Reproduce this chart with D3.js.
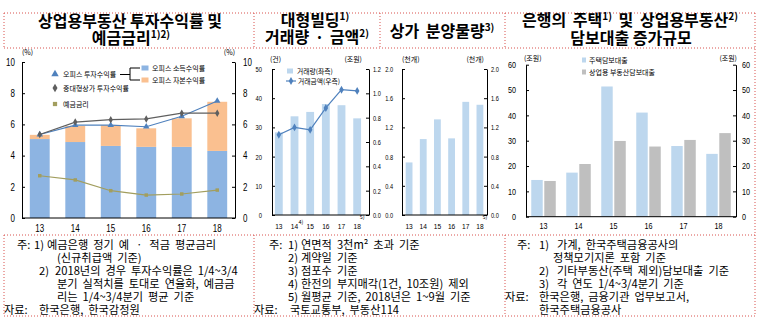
<!DOCTYPE html>
<html><head><meta charset="utf-8">
<script src="https://cdn.jsdelivr.net/npm/d3@7"></script>
<style>
body{margin:0;background:#fff;}
svg{display:block;font-family:'Noto Sans CJK KR','Noto Sans',sans-serif;}
text{white-space:pre;}
</style></head><body>
<svg id="c" width="766" height="330"></svg>
<script>
// ---------- data ----------
const years = ["13","14","15","16","17","18"];
// panel 1 (%)
const officeIncome  = [5.06, 4.87, 4.62, 4.56, 4.56, 4.30];
const officeCapital = [0.27, 1.03, 1.33, 1.19, 1.83, 3.15];
const officeReturn  = [5.35, 5.95, 5.95, 5.85, 6.52, 7.50];
const retailReturn  = [5.35, 6.15, 6.30, 6.35, 6.72, 6.72];
const depositRate   = [2.71, 2.44, 1.75, 1.47, 1.54, 1.79];
const ticks1 = [0, 2, 4, 6, 8, 10];
// panel 2
const bldgCount  = [28.3, 33.8, 35.3, 38.0, 37.6, 33.1];   // 건
const bldgAmount = [0.66, 0.72, 0.70, 0.88, 1.03, 1.02];   // 조원
const ticks2L = [0, 10, 20, 30, 40, 50];
const ticks2R = [0, 0.2, 0.4, 0.6, 0.8, 1.0, 1.2];
// panel 3
const retailSupply = [0.72, 1.04, 1.31, 1.05, 1.55, 1.51]; // 천개
const ticks3 = [0, 0.4, 0.8, 1.2, 1.6, 2.0];
// panel 4 (조원)
const mortgageLoan   = [14.5, 17.4, 51.4, 41.1, 27.9, 24.8];
const commercialLoan = [14.1, 20.8, 29.9, 27.7, 30.3, 33.0];
const ticks4 = [0, 10, 20, 30, 40, 50, 60];

const notes1 = [
  {k:"주:", n:"1)", t:"예금은행 정기 예 ㆍ 적금 평균금리"},
  {c:"(신규취급액 기준)"},
  {n:"2)", t:"2018년의 경우 투자수익률은 1/4~3/4"},
  {c:"분기 실적치를 토대로 연율화, 예금금"},
  {c:"리는 1/4~3/4분기 평균 기준"},
  {k:"자료:", t:"한국은행, 한국감정원"}
];
const notes2 = [
  {k:"주:", n:"1)", t:"연면적 3천m² 초과 기준"},
  {n:"2)", t:"계약일 기준"},
  {n:"3)", t:"점포수 기준"},
  {n:"4)", t:"한전의 부지매각(1건, 10조원) 제외"},
  {n:"5)", t:"월평균 기준, 2018년은 1~9월 기준"},
  {k:"자료:", t:"국토교통부, 부동산114"}
];
const notes4 = [
  {k:"주:", n:"1)", t:"가계, 한국주택금융공사의"},
  {c:"정책모기지론 포함 기준"},
  {n:"2)", t:"기타부동산(주택 제외)담보대출 기준"},
  {n:"3)", t:"각 연도 1/4~3/4분기 기준"},
  {k:"자료:", t:"한국은행, 금융기관 업무보고서,"},
  {s:"한국주택금융공사"}
];

// ---------- helpers ----------
const svg = d3.select("#c");
const RED = "#d9534f";
const NUMF = "'Liberation Sans',Arial,sans-serif";

function dotted(x1, y1, x2, y2) {
  svg.append("line").attr("x1", x1).attr("y1", y1).attr("x2", x2).attr("y2", y2)
    .attr("stroke", RED).attr("stroke-width", 1).attr("stroke-dasharray", "1,2");
}
function title(cx, y, parts, fs, ws) {
  const t = svg.append("text").attr("x", cx).attr("y", y).attr("text-anchor", "middle")
    .attr("font-size", fs).attr("font-weight", 700).attr("word-spacing", ws || 0).attr("fill", "#000");
  let up = false;
  parts.forEach(p => {
    const sup = Array.isArray(p);
    const s = t.append("tspan").text(sup ? p[0] : p);
    if (sup) { s.attr("font-size", 10).attr("dy", -6); up = true; }
    else if (up) { s.attr("dy", 6); up = false; }
  });
}
// horizontally condense tick labels (narrow numerals as in the original)
function condense(g, s) {
  g.selectAll("text").each(function () {
    const el = d3.select(this);
    const x0 = +(el.attr("x") || 0);
    el.attr("x", x0 / s).attr("transform", `scale(${s},1)`);
  });
}
function yAxis(scale, ticks, side, x, pad, fs, fmt, s) {
  const ax = (side === "left" ? d3.axisLeft(scale) : d3.axisRight(scale))
    .tickValues(ticks).tickFormat(fmt).tickSizeInner(-3).tickSizeOuter(0).tickPadding(pad);
  svg.append("g").attr("transform", `translate(${x},0)`).call(ax)
    .call(g => {
      g.select(".domain").attr("stroke", "#000");
      g.selectAll(".tick line").attr("stroke", "#000");
      g.selectAll("text").attr("font-size", fs).attr("font-family", NUMF).attr("fill", "#000");
      condense(g, s);
    });
}
function xAxis(scale, y, x0, x1, pad, fs, s) {
  svg.append("g").attr("transform", `translate(0,${y})`)
    .call(d3.axisBottom(scale).tickSize(0).tickPadding(pad))
    .call(g => {
      g.select(".domain").remove();
      g.selectAll("text").attr("font-size", fs).attr("font-family", NUMF).attr("fill", "#000");
      condense(g, s);
    });
  svg.append("line").attr("x1", x0).attr("x2", x1).attr("y1", y).attr("y2", y).attr("stroke", "#000");
}
function small(x, y, txt, fs, anchor) {
  return svg.append("text").attr("x", x).attr("y", y).attr("font-size", fs)
    .attr("text-anchor", anchor || "start").attr("fill", "#000").text(txt);
}
function notes(list, ox, cols) {
  list.forEach((d, i) => {
    const y = 248.5 + i * 13.1;
    const add = (x, s) => svg.append("text").attr("x", ox + x).attr("y", y)
      .attr("font-size", 11.2).attr("word-spacing", 2.5).attr("fill", "#000").text(s);
    if (d.k === "주:") { add(cols.k, d.k); add(cols.n, d.n); add(cols.t, d.t); }
    else if (d.k === "자료:") { add(0, d.k); add(cols.s, d.t); }
    else if (d.n) { add(cols.n2, d.n); add(cols.t2, d.t); }
    else if (d.c) { add(cols.c, d.c); }
    else if (d.s) { add(cols.s, d.s); }
  });
}

// ---------- frames ----------
dotted(4, 13, 755, 13);
dotted(4, 48, 755, 48);
[4, 254, 380, 505].forEach(x => dotted(x, 13, x, 48));
dotted(755, 13, 755, 316);
dotted(4, 235, 755, 235);
dotted(4, 316, 755, 316);
[4, 254, 505].forEach(x => dotted(x, 235, x, 316));

// ---------- titles ----------
title(130, 27, ["상업용부동산 투자수익률 및"], 16);
title(131, 44, ["예금금리", ["1)2)"]], 16);
title(315, 26, ["대형빌딩", ["1)"]], 16);
title(317, 43, ["거래량 · 금액", ["2)"]], 16, 2);
title(442, 36.5, ["상가 분양물량", ["3)"]], 16, 3);
title(630, 26, ["은행의 주택", ["1)"], " 및 상업용부동산", ["2)"]], 16, 3);
title(631, 44, ["담보대출 증가규모"], 16);

// ---------- panel 1 ----------
{
  const L = 22, R = 235, T = 62, B = 218;
  const x = d3.scaleBand().domain(years).range([L, R]).paddingInner(0.44).paddingOuter(0.22);
  const y = d3.scaleLinear().domain([0, 10]).range([B, T]);
  const rows = years.map((yr, i) => ({year: yr, income: officeIncome[i], capital: officeCapital[i]}));
  const stack = d3.stack().keys(["income", "capital"])(rows);
  const col = {income: "#8DB4E2", capital: "#FAC090"};
  svg.append("g").selectAll("g").data(stack).join("g").attr("fill", d => col[d.key])
    .selectAll("rect").data(d => d).join("rect")
    .attr("x", d => x(d.data.year)).attr("width", x.bandwidth())
    .attr("y", d => y(d[1])).attr("height", d => y(d[0]) - y(d[1]));

  const series = [
    {name: "오피스 투자수익률", v: officeReturn, color: "#4F81BD", sym: d3.symbolTriangle, size: 18},
    {name: "중대형상가 투자수익률", v: retailReturn, color: "#5f5f5f", sym: d3.symbolDiamond, size: 16},
    {name: "예금금리", v: depositRate, color: "#A29E5E", sym: d3.symbolSquare, size: 12}
  ];
  const cx = i => x(years[i]) + x.bandwidth() / 2;
  series.forEach(s => {
    svg.append("path").datum(s.v).attr("fill", "none").attr("stroke", s.color).attr("stroke-width", 1.2)
      .attr("d", d3.line().x((d, i) => cx(i)).y(d => y(d)));
    svg.append("g").selectAll("path").data(s.v).join("path")
      .attr("transform", (d, i) => `translate(${cx(i)},${y(d)})`)
      .attr("d", d3.symbol().type(s.sym).size(s.size)).attr("fill", s.color);
  });

  yAxis(y, ticks1, "left", L, 7, 10, d3.format("d"), 0.8);
  yAxis(y, ticks1, "right", R, 8, 10, d3.format("d"), 0.8);
  xAxis(x, B, L, R, 6.5, 10, 0.8);
  small(22, 55, "(%)", 7);
  small(235, 55, "(%)", 7, "end");

  // legend
  series.forEach((s, i) => {
    const ly = [74, 88, 104][i];
    svg.append("path").attr("transform", `translate(55,${ly})`)
      .attr("d", d3.symbol().type(s.sym).size(s.size + 6)).attr("fill", s.color);
    small(63, ly + 2.5, s.name, 7);
  });
  svg.append("path").attr("fill", "none").attr("stroke", "#000").attr("stroke-width", 1)
    .attr("d", "M120,74.5H130M140,68H130V80H140");
  [["오피스 소득수익률", "#8DB4E2", 68], ["오피스 자본수익률", "#FAC090", 80]].forEach(([n, c, ly]) => {
    svg.append("rect").attr("x", 141.5).attr("y", ly - 2.5).attr("width", 7).attr("height", 5).attr("fill", c);
    small(152, ly + 2.5, n, 7);
  });
}

// ---------- panel 2 ----------
{
  const L = 272, R = 369, T = 69, B = 215;
  const x = d3.scaleBand().domain(years).range([271, 365]).paddingInner(0.5).paddingOuter(0.25);
  const yL = d3.scaleLinear().domain([0, 50]).range([B, T]);
  const yR = d3.scaleLinear().domain([0, 1.2]).range([B, T]);
  svg.append("g").selectAll("rect").data(bldgCount).join("rect")
    .attr("x", (d, i) => x(years[i])).attr("width", x.bandwidth())
    .attr("y", d => yL(d)).attr("height", d => B - yL(d)).attr("fill", "#BDD7EE");
  const cx = i => x(years[i]) + x.bandwidth() / 2;
  svg.append("path").datum(bldgAmount).attr("fill", "none").attr("stroke", "#4F81BD").attr("stroke-width", 1.2)
    .attr("d", d3.line().x((d, i) => cx(i)).y(d => yR(d)));
  svg.append("g").selectAll("path").data(bldgAmount).join("path")
    .attr("transform", (d, i) => `translate(${cx(i)},${yR(d)})`)
    .attr("d", d3.symbol().type(d3.symbolDiamond).size(18)).attr("fill", "#4F81BD");
  yAxis(yL, ticks2L, "left", L, 10, 7.5, d3.format("d"), 0.78);
  yAxis(yR, ticks2R, "right", R, 4, 7.5, d3.format(".1f"), 0.75);
  xAxis(x, B, L, R, 8.8, 7.8, 0.85);
  small(cx(1) + 4, 224, "4)", 5.5);
  small(cx(5) + 2.5, 219, "5)", 5.5);
  small(270, 62, "(건)", 7);
  small(362, 62, "(조원)", 7, "end");
  svg.append("rect").attr("x", 287).attr("y", 68.5).attr("width", 6).attr("height", 5).attr("fill", "#BDD7EE");
  small(297, 73.5, "거래량(좌측)", 6.8);
  svg.append("line").attr("x1", 286).attr("x2", 296).attr("y1", 81).attr("y2", 81).attr("stroke", "#4F81BD").attr("stroke-width", 1.2);
  svg.append("path").attr("transform", "translate(291,81)").attr("d", d3.symbol().type(d3.symbolDiamond).size(18)).attr("fill", "#4F81BD");
  small(298, 83.5, "거래금액(우측)", 6.8);
}

// ---------- panel 3 ----------
{
  const L = 402, R = 487, T = 69, B = 215;
  const x = d3.scaleBand().domain(years).range([L, R]).paddingInner(0.52).paddingOuter(0.26);
  const y = d3.scaleLinear().domain([0, 2.0]).range([B, T]);
  svg.append("g").selectAll("rect").data(retailSupply).join("rect")
    .attr("x", (d, i) => x(years[i])).attr("width", x.bandwidth())
    .attr("y", d => y(d)).attr("height", d => B - y(d)).attr("fill", "#BDD7EE");
  yAxis(y, ticks3, "left", L, 9, 7.5, d3.format(".1f"), 0.75);
  yAxis(y, ticks3, "right", R, 4, 7.5, d3.format(".1f"), 0.75);
  xAxis(x, B, L, R, 8.8, 7.8, 0.85);
  small(x("18") + x.bandwidth() / 2 + 2.5, 219, "5)", 5.5);
  small(402, 62, "(천개)", 7);
  small(484, 62, "(천개)", 7, "end");
}

// ---------- panel 4 ----------
{
  const L = 526, R = 736, T = 64.7, B = 216.7;
  const x = d3.scaleBand().domain(years).range([L, R]).paddingInner(0.3).paddingOuter(0.15);
  const xs = d3.scaleBand().domain(["m", "c"]).range([0, x.bandwidth()]).paddingInner(0.12);
  const y = d3.scaleLinear().domain([0, 60]).range([B, T]);
  const rows = years.map((yr, i) => ({year: yr, m: mortgageLoan[i], c: commercialLoan[i]}));
  const col = {m: "#BDD7EE", c: "#BFBFBF"};
  svg.append("g").selectAll("g").data(rows).join("g")
    .attr("transform", d => `translate(${x(d.year)},0)`)
    .selectAll("rect").data(d => ["m", "c"].map(k => ({k, v: d[k]}))).join("rect")
    .attr("x", d => xs(d.k)).attr("width", xs.bandwidth())
    .attr("y", d => y(d.v)).attr("height", d => B - y(d.v)).attr("fill", d => col[d.k]);
  yAxis(y, ticks4, "left", L, 10, 8.5, d3.format("d"), 0.85);
  yAxis(y, ticks4, "right", R, 6, 8.5, d3.format("d"), 0.85);
  xAxis(x, B, L, R, 6.1, 8.5, 0.85);
  small(524, 61, "(조원)", 7);
  small(737, 61, "(조원)", 7, "end");
  [["주택담보대출", "#BDD7EE", 60], ["상업용 부동산담보대출", "#BFBFBF", 72]].forEach(([n, c, ly]) => {
    svg.append("rect").attr("x", 582).attr("y", ly - 2.5).attr("width", 4).attr("height", 5).attr("fill", c);
    small(589, ly + 2.5, n, 7);
  });
}

// ---------- notes ----------
notes(notes1, 4, {k: 13, n: 30, t: 43, n2: 35, t2: 51, c: 53, s: 35});
notes(notes2, 254, {k: 15, n: 34, t: 47, n2: 34, t2: 47, c: 47, s: 36});
notes(notes4, 505, {k: 12, n: 34, t: 52, n2: 34, t2: 52, c: 48, s: 34});
</script>
</body></html>
